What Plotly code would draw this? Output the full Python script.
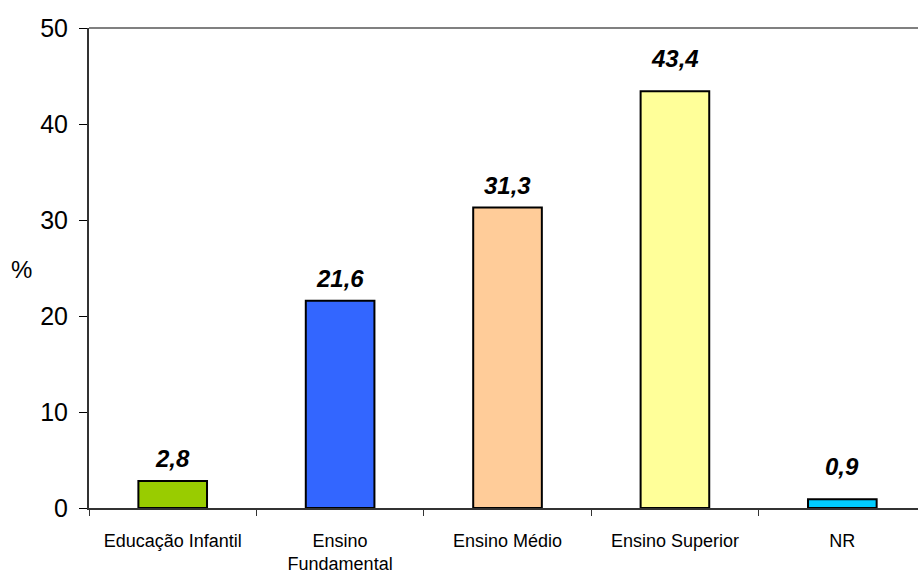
import plotly.graph_objects as go

# Escolaridade (%)
categorias = ["Educação Infantil", "Ensino<br>Fundamental", "Ensino Médio", "Ensino Superior", "NR"]
valores = [2.8, 21.6, 31.3, 43.4, 0.9]
cores = ["#99CC00", "#3366FF", "#FFCC99", "#FFFF99", "#00CCFF"]
y_ticks = [0, 10, 20, 30, 40, 50]

# Afastamento extra (px) de cada rótulo em relação ao topo da barra
afastamento_rotulo = [0, 0, 0, 10, 10]

FONT = "Liberation Sans, Arial, sans-serif"

fig = go.Figure(
    go.Bar(
        x=categorias,
        y=valores,
        marker=dict(color=cores, line=dict(color="#000000", width=2)),
        width=0.41,
        hoverinfo="skip",
    )
)

# Rótulos de valor acima das barras (vírgula decimal)
for cat, v, extra in zip(categorias, valores, afastamento_rotulo):
    fig.add_annotation(
        x=cat, y=v, xref="x", yref="y",
        text=f"{v:.1f}".replace(".", ","),
        showarrow=False, yanchor="bottom", yshift=7 + extra,
        font=dict(family=FONT, size=24, color="#000000", weight="bold", style="italic"),
    )

# Título do eixo y na horizontal
fig.add_annotation(
    x=0, y=0.496, xref="paper", yref="paper",
    text="%", showarrow=False, xanchor="right", yanchor="middle", xshift=-55,
    font=dict(family=FONT, size=24, color="#000000"),
)

# Borda superior cinza da área do gráfico
fig.add_shape(type="line", xref="paper", yref="paper", x0=0, x1=1, y0=1, y1=1,
              line=dict(color="#808080", width=2))

fig.update_layout(
    width=918, height=574,
    margin=dict(l=89, r=0, t=28, b=66),
    paper_bgcolor="white", plot_bgcolor="white",
    showlegend=False,
    font=dict(family=FONT, color="#000000"),
    xaxis=dict(
        type="category",
        range=[-0.5, 4.452],
        tickson="boundaries",
        ticks="outside", ticklen=6, tickcolor="#333333", tickwidth=1,
        showline=True, linecolor="#333333", linewidth=2,
        showgrid=False, zeroline=False,
        tickfont=dict(family=FONT, size=18, color="#000000"),
        ticklabelstandoff=15,
    ),
    yaxis=dict(
        range=[0, 50], tickvals=y_ticks,
        ticks="outside", ticklen=8, tickcolor="#000000", tickwidth=1,
        showline=True, linecolor="#333333", linewidth=2,
        showgrid=False, zeroline=False,
        tickfont=dict(family=FONT, size=25, color="#000000"),
        ticklabelstandoff=6,
    ),
)

fig.write_html("out.html")
